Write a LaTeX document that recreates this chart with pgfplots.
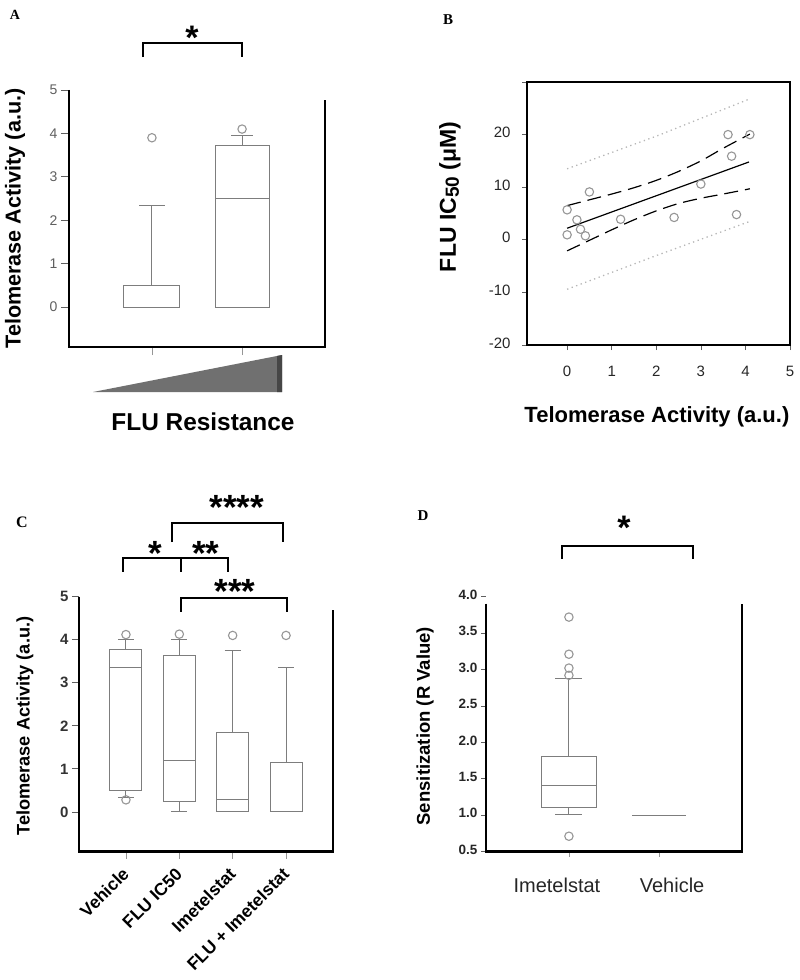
\documentclass[border=0pt]{standalone}
\usepackage{fontspec}
\setmainfont{Liberation Sans}
\newfontfamily\serifbf{Liberation Serif}
\usepackage{pgfplots}
\pgfplotsset{compat=1.18}
\usepgfplotslibrary{statistics}
\definecolor{boxgray}{RGB}{125,125,125}
\definecolor{ptgray}{RGB}{150,150,150}
\definecolor{tickgray}{RGB}{95,95,95}
\definecolor{trigray}{RGB}{112,112,112}
\definecolor{tridark}{RGB}{70,70,70}
\newcommand\fs[1]{\fontsize{#1}{#1}\selectfont}
\pgfplotsset{
  panel/.style={scale only axis, clip=false, axis line style={draw=none},
    tick align=outside, /pgf/number format/assume math mode=true,
    boxplot/draw direction=y, xtick pos=bottom, ytick pos=left},
  bx/.style={boxgray, line width=1pt, solid, mark=o, mark size=4.2pt,
    mark options={ptgray, line width=1.1pt}},
}
\begin{document}
\begin{tikzpicture}
\path[use as bounding box] (0pt,0pt) rectangle (800pt,-980pt);
% ---------------- A
\begin{axis}[panel, at={(69pt,-347pt)}, anchor=south west, width=256pt, height=257pt,
  xmin=0.08, xmax=2.92, ymin=-0.92, ymax=5,
  xtick={1,2}, xticklabels={{},{}}, ytick={0,1,2,3,4,5},
  major tick length=8pt,
  x tick style={ptgray, line width=0.8pt},
  y tick style={tickgray, line width=0.8pt},
  yticklabel style={font=\fs{14}, text=tickgray},
  every axis y label/.style={at={(rel axis cs:-0.211,0.5)}, rotate=90, anchor=center, font=\bfseries\fs{21.6}},
  ylabel={Telomerase Activity (a.u.)}]
\addplot[bx, boxplot prepared={draw position=1, lower whisker=0, lower quartile=0, median=0, upper quartile=0.5, upper whisker=2.35, box extend=0.62, whisker extend=0.28}] table[row sep=\\, y index=0] {v\\ 3.9\\};
\addplot[bx, boxplot prepared={draw position=2, lower whisker=0, lower quartile=0, median=2.5, upper quartile=3.72, upper whisker=3.95, box extend=0.6, whisker extend=0.24}] table[row sep=\\, y index=0] {v\\ 4.1\\};
\draw[line width=2.4pt, line join=miter] (axis cs:0.08,5) -- (axis cs:0.08,-0.92) -- (axis cs:2.92,-0.92) -- (axis cs:2.92,4.77);
\end{axis}
% ---------------- B
\begin{axis}[scale only axis, at={(527pt,-345pt)}, anchor=south west, width=263pt, height=263pt,
  xmin=-0.9, xmax=5, ymin=-20, ymax=30,
  axis line style={line width=2.4pt},
  xtick={0,1,2,3,4,5}, ytick={-20,-10,0,10,20,30}, yticklabels={-20,-10,0,10,20,{}},
  tick align=outside, major tick length=5pt, tick style={tickgray, line width=0.7pt},
  xtick pos=bottom, ytick pos=left,
  typeset ticklabels with strut,
  ticklabel style={font=\fs{15}, text=black!85},
  /pgf/number format/assume math mode=true,
  xticklabel style={yshift=-12pt},
  yticklabel style={xshift=-8pt},
  every axis x label/.style={at={(rel axis cs:0.494,-0.274)}, anchor=center, font=\bfseries\fs{22}},
  every axis y label/.style={at={(rel axis cs:-0.293,0.563)}, rotate=90, anchor=center, font=\bfseries\fs{23}},
  xlabel={Telomerase Activity (a.u.)},
  ylabel={FLU IC{\fs{19}\raisebox{-3pt}{50}} (μM)}]
\addplot[ptgray!70, line width=1.3pt, dash pattern=on 1.3pt off 3.5pt] coordinates {(0,13.5)(2,19.7)(4.1,26.8)};
\addplot[ptgray!70, line width=1.3pt, dash pattern=on 1.3pt off 3.5pt] coordinates {(0,-9.4)(2,-3.0)(4.1,3.5)};
\addplot[black, line width=1.2pt, dash pattern=on 14pt off 7pt, smooth] coordinates {(0,6.5)(0.5,7.6)(1,8.7)(1.5,9.9)(2,11.3)(2.5,13.0)(3,15.0)(3.5,17.4)(4.1,20.1)};
\addplot[black, line width=1.2pt, dash pattern=on 14pt off 7pt, smooth] coordinates {(0,-2.1)(0.5,-0.1)(1,1.9)(1.5,3.8)(2,5.5)(2.5,6.9)(3,7.9)(3.5,8.7)(4.1,9.7)};
\addplot[black, line width=1.2pt] coordinates {(0,2.2)(4.08,14.8)};
\addplot[only marks, mark=o, mark size=4.2pt, mark options={ptgray, line width=1.1pt}] coordinates {(0,5.7)(0,0.95)(0.22,3.8)(0.3,2.0)(0.41,0.76)(0.5,9.1)(1.2,3.9)(2.4,4.25)(3.0,10.6)(3.61,20.0)(3.69,15.9)(3.8,4.8)(4.1,20.0)};
\end{axis}
% ---------------- C
\begin{axis}[panel, at={(79pt,-851.5pt)}, anchor=south west, width=254pt, height=254.8pt,
  xmin=0.12, xmax=4.88, ymin=-0.92, ymax=5,
  xtick={1,2,3,4}, xticklabels={Vehicle,FLU IC50,Imetelstat,FLU + Imetelstat}, ytick={0,1,2,3,4,5},
  major tick length=7pt,
  x tick style={ptgray, line width=0.8pt},
  y tick style={tickgray, line width=0.8pt},
  yticklabel style={font=\bfseries\fs{15}, text=black!80},
  xticklabel style={font=\bfseries\fs{17.5}, xshift=-2pt, yshift=-6pt, rotate=45, anchor=east, yshift=-6pt},
  every axis y label/.style={at={(rel axis cs:-0.213,0.492)}, rotate=90, anchor=center, font=\bfseries\fs{18.2}},
  ylabel={Telomerase Activity (a.u.)}]
\addplot[bx, boxplot prepared={draw position=1, lower whisker=0.34, lower quartile=0.5, median=3.36, upper quartile=3.78, upper whisker=4.0, box extend=0.6, whisker extend=0.3}] table[row sep=\\, y index=0] {v\\ 4.12\\ 0.28\\};
\addplot[bx, boxplot prepared={draw position=2, lower whisker=0, lower quartile=0.24, median=1.2, upper quartile=3.64, upper whisker=4.0, box extend=0.6, whisker extend=0.3}] table[row sep=\\, y index=0] {v\\ 4.13\\};
\addplot[bx, boxplot prepared={draw position=3, lower whisker=0, lower quartile=0, median=0.3, upper quartile=1.84, upper whisker=3.74, box extend=0.6, whisker extend=0.3}] table[row sep=\\, y index=0] {v\\ 4.1\\};
\addplot[bx, boxplot prepared={draw position=4, lower whisker=0, lower quartile=0, median=0, upper quartile=1.14, upper whisker=3.36, box extend=0.6, whisker extend=0.3}] table[row sep=\\, y index=0] {v\\ 4.1\\};
\draw[line width=2.4pt, line join=miter] (axis cs:0.12,5) -- (axis cs:0.12,-0.92) -- (axis cs:4.88,-0.92) -- (axis cs:4.88,4.68);
\end{axis}
% ---------------- D
\begin{axis}[panel, at={(486pt,-851.5pt)}, anchor=south west, width=256pt, height=254.8pt,
  xmin=0.08, xmax=2.92, ymin=0.5, ymax=4.0,
  xtick={1,2}, xticklabels={{Imetelstat\kern24pt},{\kern26pt Vehicle}},
  ytick={0.5,1,1.5,2,2.5,3,3.5,4}, yticklabels={0.5,1.0,1.5,2.0,2.5,3.0,3.5,4.0},
  major tick length=5pt,
  x tick style={ptgray, line width=0.8pt},
  y tick style={tickgray, line width=0.8pt},
  typeset ticklabels with strut,
  yticklabel style={font=\bfseries\fs{13.5}, text=black!85},
  xticklabel style={font=\fs{20}, text=black!85, yshift=-18pt},
  every axis y label/.style={at={(rel axis cs:-0.238,0.492)}, rotate=90, anchor=center, font=\bfseries\fs{18.5}},
  ylabel={Sensitization (R Value)}]
\addplot[bx, boxplot prepared={draw position=1, lower whisker=1.01, lower quartile=1.10, median=1.41, upper quartile=1.81, upper whisker=2.87, box extend=0.61, whisker extend=0.3}] table[row sep=\\, y index=0] {v\\ 3.72\\ 3.21\\ 3.02\\ 2.92\\ 0.71\\};
\addplot[bx, boxplot prepared={draw position=2, lower whisker=1, lower quartile=1, median=1, upper quartile=1, upper whisker=1, box extend=0.59, whisker extend=0.3}] table[row sep=\\, y index=0] {v\\};
\draw[line width=2.4pt, line join=miter] (axis cs:0.08,3.905) -- (axis cs:0.08,0.5) -- (axis cs:2.92,0.5) -- (axis cs:2.92,3.905);
\end{axis}
% ---------------- decorations
% A bracket, triangle, label
\draw[line width=2pt] (143pt,-57pt) -- (143pt,-43pt) -- (242pt,-43pt) -- (242pt,-57pt);
\node[anchor=base, font=\bfseries\fs{34}, inner sep=0pt] at (192pt,-49.7pt) {*};
\fill[trigray] (93pt,-392pt) -- (282pt,-355pt) -- (282pt,-392pt) -- cycle;
\fill[tridark] (277pt,-356pt) -- (282pt,-355pt) -- (282pt,-392pt) -- (277pt,-392pt) -- cycle;
\node[font=\bfseries\fs{24.4}] at (203pt,-422pt) {FLU Resistance};
% C brackets
\draw[line width=2.2pt] (122.7pt,-571.7pt) -- (122.7pt,-558.3pt) -- (228.3pt,-558.3pt) -- (228.3pt,-571.7pt);
\draw[line width=2.2pt] (181pt,-558.3pt) -- (181pt,-571.7pt);
\draw[line width=2.2pt] (171.7pt,-542pt) -- (171.7pt,-523.3pt) -- (282.7pt,-523.3pt) -- (282.7pt,-542pt);
\draw[line width=2.2pt] (181pt,-611.7pt) -- (181pt,-598.3pt) -- (286.7pt,-598.3pt) -- (286.7pt,-611.7pt);
\node[anchor=base, font=\bfseries\fs{35}, inner sep=0pt] at (155pt,-565.5pt) {*};
\node[anchor=base, font=\bfseries\fs{35}, inner sep=0pt] at (206pt,-565.5pt) {**};
\node[anchor=base, font=\bfseries\fs{35}, inner sep=0pt] at (236.7pt,-519.9pt) {****};
\node[anchor=base, font=\bfseries\fs{35}, inner sep=0pt] at (235pt,-603.2pt) {***};
% D bracket
\draw[line width=2.2pt] (562pt,-558.8pt) -- (562pt,-546pt) -- (693pt,-546pt) -- (693pt,-558.8pt);
\node[anchor=base, font=\bfseries\fs{34}, inner sep=0pt] at (624pt,-539.3pt) {*};
% panel letters
\node[font=\serifbf\bfseries\fs{14}] at (15pt,-15pt) {A};
\node[font=\serifbf\bfseries\fs{15}] at (448pt,-20pt) {B};
\node[font=\serifbf\bfseries\fs{16}] at (22pt,-522.6pt) {C};
\node[font=\serifbf\bfseries\fs{15}] at (423pt,-515.8pt) {D};
\end{tikzpicture}
\end{document}
